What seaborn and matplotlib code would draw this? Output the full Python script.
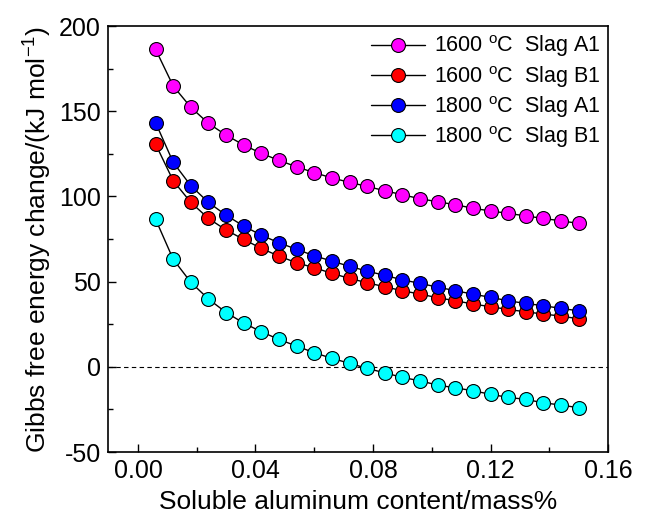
import numpy as np
import pandas as pd
import matplotlib
matplotlib.use("Agg")
import matplotlib.pyplot as plt
import seaborn as sns
from matplotlib.ticker import MultipleLocator

# ---- data ----
al_content = [0.006, 0.012, 0.018, 0.024, 0.030, 0.036, 0.042, 0.048, 0.054, 0.060,
              0.066, 0.072, 0.078, 0.084, 0.090, 0.096, 0.102, 0.108, 0.114, 0.120,
              0.126, 0.132, 0.138, 0.144, 0.150]
g_1600_A1 = [186.3, 164.8, 152.3, 142.9, 136.0, 130.2, 125.3, 121.2, 117.4, 114.0,
             110.9, 108.3, 105.9, 103.4, 101.0, 98.7, 96.9, 95.2, 93.1, 91.5,
             90.1, 88.6, 87.1, 85.7, 84.2]
g_1600_B1 = [130.7, 109.2, 96.5, 87.1, 80.3, 74.8, 69.5, 65.0, 61.1, 58.2,
             54.9, 51.9, 49.4, 47.0, 44.7, 42.7, 40.6, 38.8, 36.9, 35.3,
             33.7, 32.3, 31.0, 29.8, 28.2]
g_1800_A1 = [143.3, 120.0, 106.3, 96.5, 89.0, 82.6, 77.3, 72.8, 69.0, 65.2,
             62.1, 59.0, 56.2, 53.7, 51.1, 49.0, 46.8, 44.7, 42.7, 40.8,
             38.8, 37.2, 35.9, 34.3, 32.9]
g_1800_B1 = [86.6, 63.1, 49.6, 39.8, 31.9, 25.7, 20.6, 16.1, 12.2, 8.3,
             5.0, 2.1, -0.9, -3.5, -6.2, -8.2, -10.7, -12.3, -14.0, -16.1,
             -17.9, -19.1, -21.1, -22.4, -24.0]
labels = ["1600 $^{\\mathrm{o}}$C  Slag A1", "1600 $^{\\mathrm{o}}$C  Slag B1",
          "1800 $^{\\mathrm{o}}$C  Slag A1", "1800 $^{\\mathrm{o}}$C  Slag B1"]
colors = ["#ff00ff", "#ff0000", "#0000ff", "#00ffff"]
x_ticks = [0.00, 0.04, 0.08, 0.12, 0.16]
y_ticks = [-50, 0, 50, 100, 150, 200]

sns.set_style("ticks")
plt.rcParams["font.family"] = ["Liberation Sans", "DejaVu Sans"]
plt.rcParams["mathtext.fontset"] = "custom"
plt.rcParams["mathtext.rm"] = "Liberation Sans"
plt.rcParams["mathtext.it"] = "Liberation Sans:italic"
plt.rcParams["axes.unicode_minus"] = False
plt.rcParams["text.color"] = "black"
plt.rcParams["axes.labelcolor"] = "black"
plt.rcParams["xtick.color"] = "black"
plt.rcParams["ytick.color"] = "black"

fig = plt.figure(figsize=(6.48, 5.22), dpi=100)
ax = fig.add_axes([0.1667, 0.134, 0.7716, 0.816])

series = [g_1600_A1, g_1600_B1, g_1800_A1, g_1800_B1]
for ys, lab, col in zip(series, labels, colors):
    sns.lineplot(x=al_content, y=ys, ax=ax, color="black", linewidth=1.0,
                 marker="o", markersize=10, markerfacecolor=col,
                 markeredgecolor="black", markeredgewidth=0.8, label=lab)

ax.axhline(0, color="black", linestyle="--", linewidth=0.8, dashes=(4, 3), zorder=0)

ax.set_xlim(-0.0102, 0.16)
ax.set_ylim(-50, 200)
ax.set_xticks(x_ticks)
ax.set_xticklabels([f"{v:.2f}" for v in x_ticks])
ax.set_yticks(y_ticks)
ax.set_yticklabels([str(v) for v in y_ticks])
ax.xaxis.set_minor_locator(MultipleLocator(0.02))
ax.yaxis.set_minor_locator(MultipleLocator(25))
ax.tick_params(which="both", direction="in", top=False, right=False,
               labelsize=18, width=1.0)
ax.tick_params(which="major", length=6, pad=5)
ax.tick_params(which="minor", length=3.5)
for s in ax.spines.values():
    s.set_visible(True)
    s.set_linewidth(1.2)
    s.set_color("black")

ax.set_xlabel("Soluble aluminum content/mass%", fontsize=19, labelpad=5)
ax.set_ylabel("Gibbs free energy change/(kJ mol$^{-1}$)", fontsize=19, labelpad=4)

leg = ax.legend(loc="upper right", frameon=False, fontsize=15.5, handlelength=2.5,
                labelspacing=0.2, handletextpad=0.4, borderaxespad=0.0,
                borderpad=0.35, bbox_to_anchor=(1.0, 1.0))

fig.savefig("out.png", dpi=100)
